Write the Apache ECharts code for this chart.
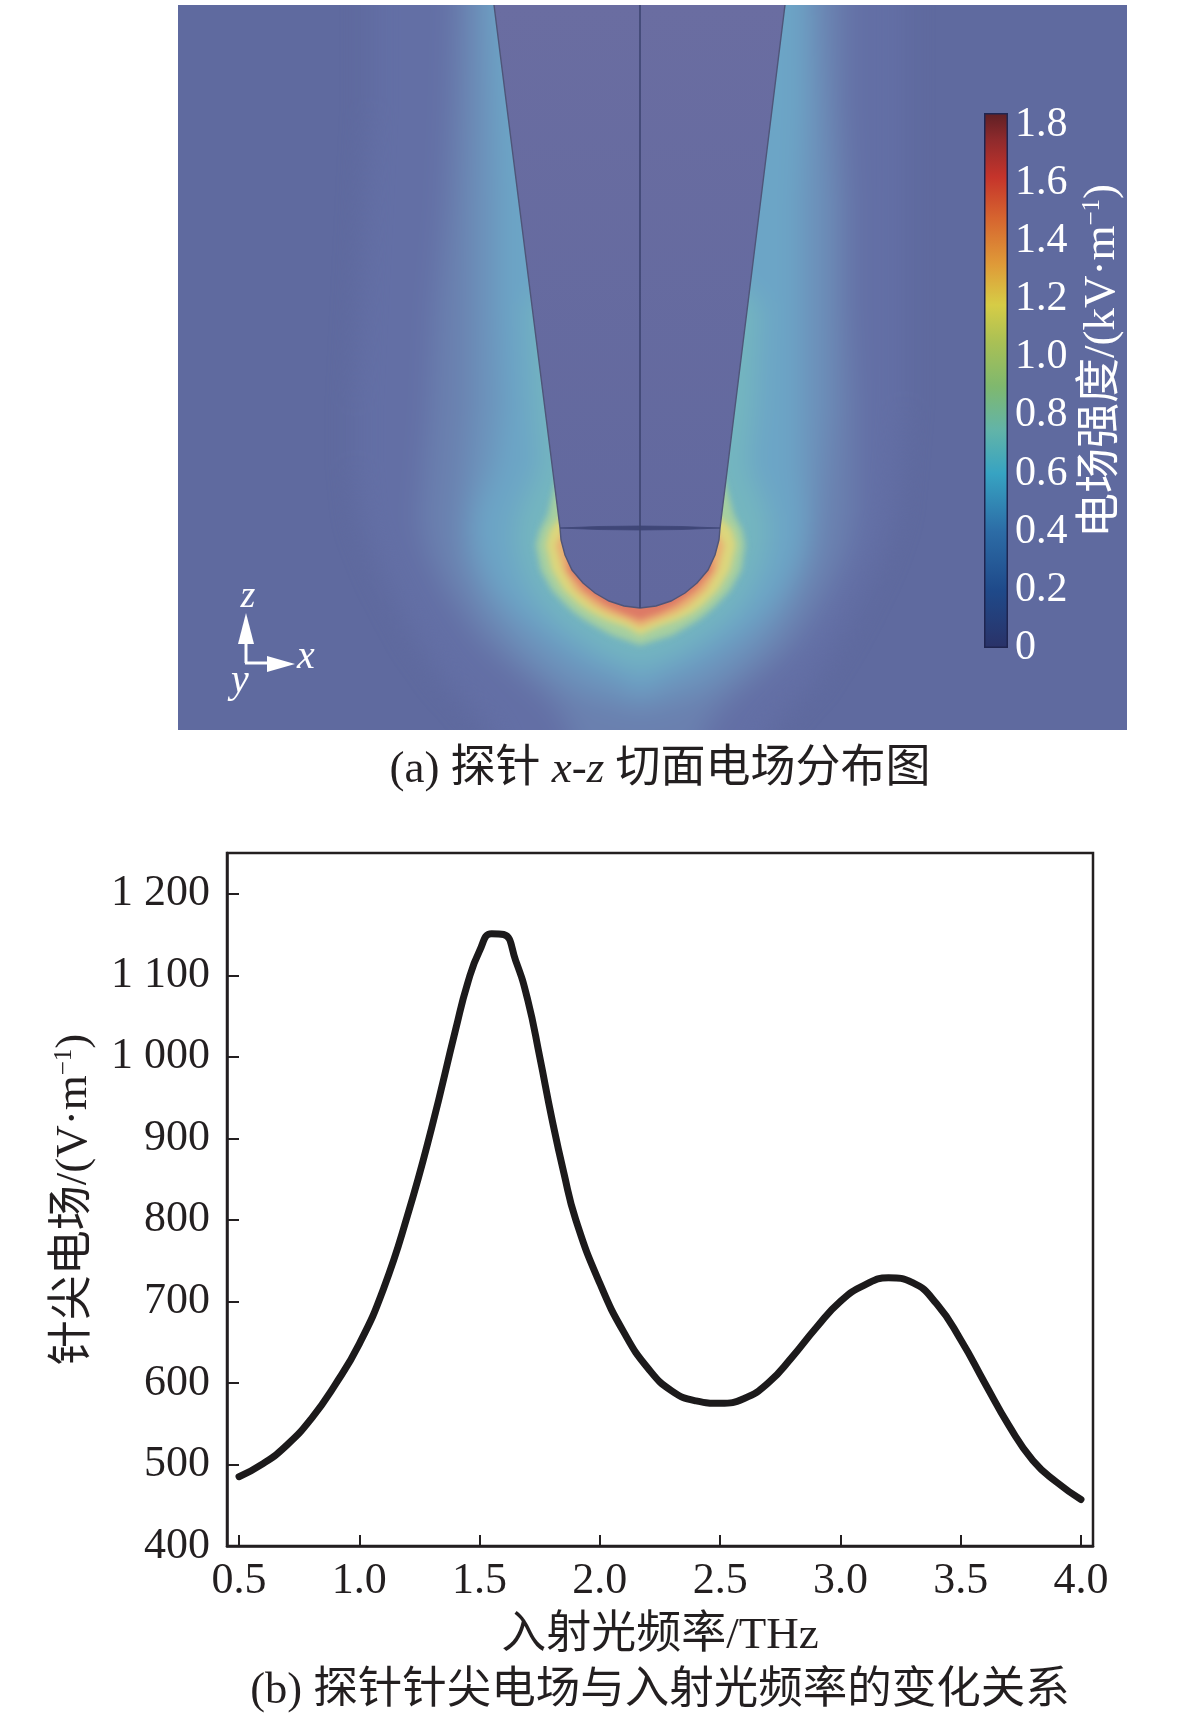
<!DOCTYPE html>
<html><head><meta charset="utf-8">
<style>
html,body{margin:0;padding:0;background:#fff;}
#page{position:relative;width:1181px;height:1716px;overflow:hidden;background:#fff;}
#panel{position:absolute;left:178px;top:5px;width:949px;height:725px;overflow:hidden;background:#5f6a9f;}
.fld{position:absolute;left:-40px;top:-40px;width:1029px;height:805px;}
#outer{filter:blur(13px);}
#inner{filter:blur(3px);}
#main{position:absolute;left:0;top:0;width:1181px;height:1716px;}
</style>
<script src="https://cdn.jsdelivr.net/npm/echarts@6/dist/echarts.min.js"></script>
</head><body>
<div id="page">
  <div id="panel"><div id="outer" class="fld"></div><div id="inner" class="fld"></div></div>
  <div id="main"></div>
</div>
<script>
var FONT='"Liberation Serif","Noto Sans CJK SC",serif';
// ---- (b) curve
var freqTHz=[0.5,0.6,0.7,0.8,0.9,1.0,1.1,1.2,1.3,1.4,1.45,1.5,1.55,1.6,1.65,1.7,1.75,1.8,1.85,1.9,2.0,2.1,2.2,2.3,2.4,2.5,2.6,2.7,2.8,2.9,3.0,3.1,3.2,3.3,3.4,3.5,3.6,3.7,3.8,3.9,4.0];
var tipField=[485,501,524,556,598,648,715,805,912,1033,1090,1130,1151,1150,1118,1070,1000,925,858,800,722,662,618,590,578,575,581,600,632,668,700,720,729,723,697,653,600,548,505,478,457];
var xTicks=[0.5,1.0,1.5,2.0,2.5,3.0,3.5,4.0];
var yTicks=[400,500,600,700,800,900,1000,1100,1200];
// ---- colour bar
var cbTicks=[0,0.2,0.4,0.6,0.8,1.0,1.2,1.4,1.6,1.8];
var cbMax=1.84;
var cbValues=[0,0.2,0.4,0.6,0.75,0.9,1.05,1.18,1.32,1.48,1.62,1.75,1.84];
var cbColors=['#2a3268','#1f4a8a','#2c6ca6','#37a3c2','#62b4a8','#7fb86e','#a9c055','#d6cc46','#df9a38','#d6642f','#c5342b','#8e2a2c','#5e1f24'];
// ---- (a) field: isoline half-widths about the probe axis, per row
var fieldCentre=462;
var fieldRows=[-40,100,200,300,400,460,510,525,540,565,585,600,608,615,622,630,640,650,662,675,690,705,725,770];
var isoColors=['#636fa5','#6a80af','#6c92bb','#6ca5c6','#74b6bf','#a6cfa0','#dcd67c','#e9ae72','#dd7a66'];
var isoLeft=[
 [270,270,275,280,285,285,280,276,270,260,250,242,238,234,230,226,220,212,204,195,180,168,150,130],
 [185,190,195,205,210,215,220,218,215,205,195,185,180,175,170,165,155,145,130,115, 95, 82, 70, 60],
 [168,168,170,170,170,175,180,180,180,175,165,158,152,147,141,134,125,115,100, 84, 58,  0,  0,  0],
 [150,145,142,142,138,145,165,165,164,155,145,132,125,116,108, 98, 85, 70, 50, 15,  0,  0,  0,  0],
 [  0,  0,  0,110,105,100,122,124,124,118,108, 97, 90, 83, 74, 63, 48, 32,  0,  0,  0,  0,  0,  0],
 [  0,  0,  0,  0,  0, 80, 92,100,104, 99, 88, 74, 65, 55, 43, 28,  0,  0,  0,  0,  0,  0,  0,  0],
 [  0,  0,  0,  0,  0,  0, 78, 90, 94, 88, 76, 60, 48, 34, 14,  0,  0,  0,  0,  0,  0,  0,  0,  0],
 [  0,  0,  0,  0,  0,  0,  0, 76, 84, 77, 65, 47, 33, 14,  0,  0,  0,  0,  0,  0,  0,  0,  0,  0],
 [  0,  0,  0,  0,  0,  0,  0,  0, 70, 72, 56, 35, 18,  0,  0,  0,  0,  0,  0,  0,  0,  0,  0,  0]
];
var isoRight=[
 [265,265,265,265,265,260,255,250,245,235,225,218,214,210,206,202,196,190,182,175,160,148,130,110],
 [205,205,210,210,215,215,215,212,210,200,190,182,177,172,167,162,154,145,130,115, 95, 80, 65, 55],
 [178,185,190,190,190,185,180,178,176,170,160,154,149,144,139,134,125,115,100, 84, 58,  0,  0,  0],
 [165,165,160,160,160,160,165,165,164,155,145,134,127,120,112,102, 88, 73, 52, 18,  0,  0,  0,  0],
 [  0,  0,  0,120,115,108,128,128,128,120,110,100, 93, 86, 77, 66, 50, 34,  0,  0,  0,  0,  0,  0],
 [  0,  0,  0,  0,  0, 80, 94,102,105,101, 90, 76, 67, 58, 46, 32,  0,  0,  0,  0,  0,  0,  0,  0],
 [  0,  0,  0,  0,  0,  0, 78, 92, 96, 90, 78, 63, 52, 38, 18,  0,  0,  0,  0,  0,  0,  0,  0,  0],
 [  0,  0,  0,  0,  0,  0,  0, 76, 84, 78, 66, 49, 36, 18,  0,  0,  0,  0,  0,  0,  0,  0,  0,  0],
 [  0,  0,  0,  0,  0,  0,  0,  0, 70, 72, 56, 36, 20,  0,  0,  0,  0,  0,  0,  0,  0,  0,  0,  0]
];
// ---- (a) probe outline
var probeOutline=[[316,0],[382,523],[383,535],[387,550],[394,565],[405,578],[417,588],[431,596],[446,601],[462,603],[478,601],[493,596],[507,588],[519,578],[530,565],[537,550],[541,535],[542,523],[607,0]];
var probeWaist=[[382,523],[420,521.5],[462,521],[504,521.5],[542,523],[504,524.5],[462,525],[420,524.5]];
var probeAxis=[[462,0],[462,603]];

function fieldChart(id,first,last){
  var c=echarts.init(document.getElementById(id));
  var idx=[];for(var i=first;i<=last;i++)idx.push([i]);
  c.setOption({
    animation:false,
    grid:{left:40,top:40,width:949,height:725},
    xAxis:{type:'value',min:0,max:949,show:false},
    yAxis:{type:'value',min:0,max:725,inverse:true,show:false},
    series:[{type:'custom',coordinateSystem:'cartesian2d',clip:false,silent:true,data:idx,
      renderItem:function(p,api){
        var k=api.value(0),pts=[],n=fieldRows.length,r;
        for(r=0;r<n;r++)pts.push(api.coord([fieldCentre-isoLeft[k][r],fieldRows[r]]));
        for(r=n-1;r>=0;r--)pts.push(api.coord([fieldCentre+isoRight[k][r],fieldRows[r]]));
        return {type:'polygon',shape:{points:pts},style:{fill:isoColors[k]}};
      }}]
  });
}
fieldChart('outer',0,4);
fieldChart('inner',5,8);

var cbStops=cbValues.map(function(v,i){return {offset:1-v/cbMax,color:cbColors[i]};});
var chart=echarts.init(document.getElementById('main'));
function shapeItem(type,pts,style){
  return function(p,api){
    return {type:type,shape:{points:pts.map(function(q){return api.coord(q);})},style:style};
  };
}
var supRich={sup:{fontSize:25,fontFamily:FONT,verticalAlign:'top',lineHeight:28,padding:[0,0,16,0]}};
var n={fontFamily:FONT,fontSize:45,fontWeight:'normal',color:'#231f20'};
chart.setOption({
  animation:false,
  backgroundColor:'transparent',
  textStyle:{fontFamily:FONT},
  title:[
   {text:'{t|(a) 探针 }{i|x-z}{t| 切面电场分布图}',left:655,top:743,textAlign:'center',
    textStyle:{fontWeight:'normal',rich:{t:n,i:{fontFamily:FONT,fontSize:45,fontWeight:'normal',fontStyle:'italic',color:'#231f20'}}}},
   {text:'(b) 探针针尖电场与入射光频率的变化关系',left:655,top:1664,textAlign:'center',
    textStyle:{fontFamily:FONT,fontSize:44.5,fontWeight:'normal',color:'#231f20'}}
  ],
  grid:[
   {left:178,top:5,width:949,height:725},
   {left:984,top:113,width:24,height:535},
   {left:227,top:853,width:866,height:693,show:true,borderColor:'#231f20',borderWidth:2.5,backgroundColor:'transparent'}
  ],
  xAxis:[
   {gridIndex:0,type:'value',min:0,max:949,show:false},
   {gridIndex:1,type:'category',data:['E'],show:false},
   {gridIndex:2,type:'value',min:0.45,max:4.05,splitLine:{show:false},
    axisLine:{lineStyle:{color:'#231f20',width:2.5}},
    axisTick:{inside:true,length:11,customValues:xTicks,lineStyle:{color:'#231f20',width:2}},
    axisLabel:{customValues:xTicks,margin:13,fontFamily:FONT,fontSize:44,color:'#231f20',formatter:function(v){return v.toFixed(1);}},
    name:'入射光频率/THz',nameLocation:'middle',nameGap:68,nameTextStyle:{fontFamily:FONT,fontSize:45,color:'#231f20'}}
  ],
  yAxis:[
   {gridIndex:0,type:'value',min:0,max:725,inverse:true,show:false},
   {gridIndex:1,type:'value',min:0,max:cbMax,position:'left',splitLine:{show:false},axisLine:{show:false},axisLabel:{show:false},
    axisTick:{inside:true,length:5,customValues:cbTicks,lineStyle:{color:'#1f2550',width:1.5}}},
   {gridIndex:1,type:'value',min:0,max:cbMax,position:'right',splitLine:{show:false},axisLine:{show:false},
    axisTick:{inside:true,length:5,customValues:cbTicks,lineStyle:{color:'#1f2550',width:1.5}},
    axisLabel:{customValues:cbTicks,margin:7,fontFamily:FONT,fontSize:42,color:'#fff',padding:[5,0,0,0],
      formatter:function(v){return v===0?'0':v.toFixed(1);}}},
   {gridIndex:2,type:'value',min:400,max:1250,splitLine:{show:false},
    axisLine:{lineStyle:{color:'#231f20',width:2.5}},
    axisTick:{inside:true,length:12,customValues:yTicks,lineStyle:{color:'#231f20',width:2}},
    axisLabel:{customValues:yTicks,margin:17,fontFamily:FONT,fontSize:44,color:'#231f20',
      formatter:function(v){return v>=1000?Math.floor(v/1000)+' '+String(v%1000).padStart(3,'0'):String(v);}},
    name:'针尖电场/(V·m{sup|−1})',nameLocation:'middle',nameGap:130,
    nameTextStyle:{fontFamily:FONT,fontSize:45,color:'#231f20',rich:Object.assign({},supRich)}}
  ],
  series:[
   {type:'custom',xAxisIndex:0,yAxisIndex:0,silent:true,clip:false,data:[[0]],z:2,
    renderItem:shapeItem('polygon',probeOutline,{fill:new echarts.graphic.LinearGradient(0,0,0,1,[{offset:0,color:'#6a6da1'},{offset:1,color:'#61689e'}])})},
   {type:'custom',xAxisIndex:0,yAxisIndex:0,silent:true,clip:false,data:[[0]],z:3,
    renderItem:shapeItem('polyline',probeOutline,{fill:null,stroke:'#4f5578',lineWidth:1.4})},
   {type:'custom',xAxisIndex:0,yAxisIndex:0,silent:true,clip:false,data:[[0]],z:3,
    renderItem:shapeItem('polygon',probeWaist,{fill:'#3f4677',stroke:'#3f4677',lineWidth:0.8})},
   {type:'line',xAxisIndex:0,yAxisIndex:0,data:probeAxis,symbol:'none',silent:true,z:4,lineStyle:{color:'#3d4470',width:1.6}},
   {type:'bar',xAxisIndex:1,yAxisIndex:1,data:[cbMax],barWidth:'100%',silent:true,z:3,
    itemStyle:{color:new echarts.graphic.LinearGradient(0,0,0,1,cbStops),borderColor:'#1f2550',borderWidth:1.5}},
   {type:'line',name:'针尖电场',xAxisIndex:2,yAxisIndex:3,data:freqTHz.map(function(f,i){return [f,tipField[i]];}),
    smooth:0.5,symbol:'none',silent:true,z:5,lineStyle:{color:'#1c1a1b',width:7,cap:'round',join:'round'}}
  ],
  graphic:[
   {type:'text',rotation:Math.PI/2,x:1102,y:361,z:20,
    style:{text:'电场强度/(kV·m{sup|−1})',rich:Object.assign({},supRich,{sup:Object.assign({},supRich.sup,{fill:'#fff',color:'#fff'})}),fill:'#fff',font:'45px '+FONT,textAlign:'center',textVerticalAlign:'middle'}},
   {type:'line',z:20,shape:{x1:246,y1:663,x2:246,y2:640},style:{stroke:'#fff',lineWidth:3}},
   {type:'line',z:20,shape:{x1:245,y1:663,x2:270,y2:663},style:{stroke:'#fff',lineWidth:3}},
   {type:'polygon',z:20,shape:{points:[[246,613],[254,644],[238,644]]},style:{fill:'#fff'}},
   {type:'polygon',z:20,shape:{points:[[295,664],[267,656],[267,672]]},style:{fill:'#fff'}},
   {type:'text',z:20,x:248,y:597,style:{text:'z',fill:'#fff',font:'italic 38px '+FONT,textAlign:'center',textVerticalAlign:'middle'}},
   {type:'text',z:20,x:306,y:657,style:{text:'x',fill:'#fff',font:'italic 40px '+FONT,textAlign:'center',textVerticalAlign:'middle'}},
   {type:'text',z:20,x:240,y:681,style:{text:'y',fill:'#fff',font:'italic 40px '+FONT,textAlign:'center',textVerticalAlign:'middle'}}
  ]
});
</script>
</body></html>
